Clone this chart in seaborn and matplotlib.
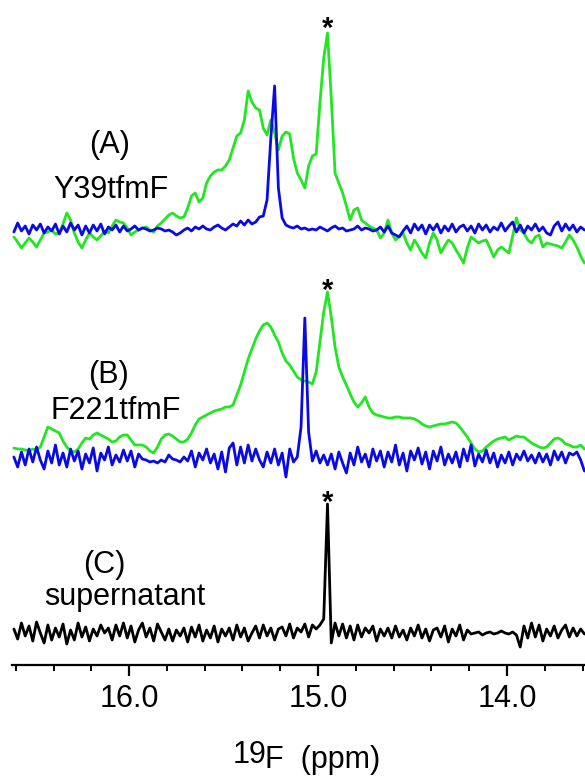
import numpy as np
import pandas as pd
import matplotlib
matplotlib.use("Agg")
import matplotlib.pyplot as plt
import seaborn as sns
from matplotlib.ticker import FixedLocator, MultipleLocator, FormatStrFormatter

# 19F spectra, sampled every 0.02 ppm from 16.61 down to 13.59 (152 points)
ppm = np.round(16.61 - 0.02 * np.arange(152), 2)

# (A) Y39tfmF - green trace
y39_green = [
    -9, -14, -20, -15, -10, -14, -19, -12, -5, -4,
    -2, -6, -5, 4, 15, 8, -5, -14, -20, -12,
    -5, -9, -12, -8, -3, -5, 2, 8, 6, 5,
    0, -7, -4, -2, 0, 1, -2, -4, 2, 5,
    9, 13, 15, 12, 10, 11, 20, 32, 35, 26,
    30, 45, 52, 56, 58, 58, 62, 68, 80, 92,
    95, 108, 137, 126, 120, 118, 100, 93, 108, 95,
    78, 92, 96, 94, 70, 55, 48, 40, 62, 72,
    74, 125, 170, 195, 130, 55, 45, 35, 22, 8,
    18, 20, 8, 5, 2, 0, -2, -10, -5, 8,
    -5, -12, -8, -5, -15, -22, -12, -18, -25, -30,
    -15, -5, -12, -25, -18, -12, -15, -22, -28, -35,
    -20, -9, -12, -15, -13, -12, -20, -29, -22, -19,
    -22, -25, -8, 10, -2, -5, -12, -15, -9, -7,
    -19, -15, -16, -17, -18, -20, -14, -7, -12, -19,
    -28, -35,
]
# (A) Y39tfmF - blue trace
y39_blue = [
    -4, 5, -3, 2, -6, 3, -2, 4, -5, 1,
    -3, 4, -6, 2, -4, 5, -2, 3, -7, 2,
    -5, 3, -3, 4, -6, 1, -2, 3, -4, 2,
    -3, -1, 2, -2, 0, -1, -3, -2, 0, -1,
    -3, -2, -4, -7, -5, -2, 0, -3, 1, -1,
    2, -1, -2, 1, 3, 0, -2, 1, 4, 2,
    7, 3, 8, 4, 6, 11, 12, 28, 90, 142,
    40, 10, 3, 1, 0, 2, -1, 0, -2, -1,
    -2, 1, -1, -3, 0, 2, -1, 0, -3, -2,
    -1, 2, -2, 0, -1, -3, -2, 1, -4, 2,
    -5, -7, -9, -3, 2, -5, 4, -2, 3, -6,
    3, -2, 4, -5, 2, -3, 4, -4, 1, 3,
    -3, 2, -5, 4, -2, 3, -4, 1, -2, 5,
    -3, 2, 6, -4, 3, -5, 2, -2, 4, -3,
    1, -5, -7, 2, 6, -3, 4, -2, 3, -4,
    1, -2,
]
# (B) F221tfmF - green trace
f221_green = [
    9, 8, 8, 7, 6, 8, 7, 10, 20, 30,
    28, 26, 24, 16, 10, 6, 5, 8, 14, 19,
    18, 22, 24, 22, 20, 18, 15, 16, 20, 22,
    22, 17, 12, 12, 12, 10, 6, 4, 10, 18,
    22, 23, 21, 18, 15, 15, 18, 24, 32, 38,
    40, 42, 44, 46, 47, 48, 50, 50, 52, 62,
    72, 85, 98, 108, 118, 126, 132, 134, 130, 122,
    115, 104, 96, 92, 86, 80, 77, 76, 75, 73,
    85, 115, 145, 165, 140, 110, 90, 80, 72, 63,
    55, 50, 54, 60, 50, 44, 42, 41, 40, 39,
    39, 40, 40, 39, 39, 39, 38, 36, 33, 31,
    30, 31, 32, 33, 33, 34, 35, 34, 30, 25,
    20, 14, 8, 5, 6, 10, 13, 16, 18, 19,
    20, 17, 19, 21, 20, 20, 17, 14, 12, 10,
    9, 10, 14, 18, 19, 17, 13, 12, 10, 10,
    12, 8,
]
# (B) F221tfmF - blue trace
f221_blue = [
    0, -10, 5, -8, 8, -5, 10, -3, -12, 6,
    -6, 12, -8, 4, -10, 8, -4, 6, -12, 3,
    -6, 9, -14, 4, -3, 10, -8, 2, -5, 7,
    -4, 6, -10, 3, -2, -3, -5, -4, -6, -3,
    -5, 2, -2, -3, -5, 0, -4, 6, -10, 4,
    -3, 8, -6, 3, -12, 5, -15, 9, 14, -8,
    10, -6, 12, -4, 8, -3, -10, 5, -6, 8,
    -8, 4, -20, 8, -5, 0, 30, 139, 25, -4,
    6, -6, 2, -8, 3, -12, 5, -6, -16, 4,
    -8, 10, -5, 3, -10, 8, -4, 6, -10, 5,
    -5, 12, -8, 4, -14, 6, -3, 9, -7, 5,
    -12, 6, -4, 10, -8, 3, -6, 5, -10, 8,
    -4, 12, -9, 3, -5, 7, -6, 4, -10, 2,
    -6, 5, -8, 3, -3, 6, -4, 2, -6, 4,
    -5, 3, -8, 6, -3, 5, -6, 4, 2, 5,
    -3, -14,
]
# (C) supernatant - black trace
super_black = [
    4, -6, 10, -3, 7, -8, 11, 0, -10, 8,
    -7, 5, -4, 9, -11, 3, -7, 10, -4, 6,
    -8, 4, -3, 8, 0, 5, -7, 8, -3, 10,
    -5, 7, -9, 3, 10, -4, 5, -8, 9, 1,
    -7, 4, -8, 3, -3, 5, -9, 6, -4, 8,
    -8, 3, -5, 7, -9, 4, -3, 5, -7, 8,
    -4, 5, -8, 0, 7, -5, 8, -3, 5, -7,
    4, 6, -3, 9, -5, 5, 1, 9, -4, 8,
    4, 8, 14, 129, -10, 10, -3, 9, -5, 7,
    -7, 8, -4, 5, 0, 7, -8, 4, -3, 5,
    -5, 7, -4, 3, -7, 5, -3, 8, -5, 4,
    -8, 3, 5, -4, 7, -9, 4, -3, 8, -7,
    3, -1, 0, 1, -2, 0, 1, -1, 0, 2,
    0, -1, 1, -2, -14, 7, -5, 10, -4, 8,
    -8, 4, -3, 7, -5, 3, 8, -4, 5, -3,
    4, -1,
]

panel_labels = ["(A)", "Y39tfmF", "(B)", "F221tfmF", "(C)", "supernatant"]
star_ppm = 14.95

sns.set_style("white")
plt.rcParams['font.family'] = ['Liberation Sans', 'DejaVu Sans']
plt.rcParams['text.color'] = 'black'
plt.rcParams['xtick.color'] = 'black'
plt.rcParams['axes.labelcolor'] = 'black'

W, H = 585, 779
fig = plt.figure(figsize=(W / 100, H / 100), dpi=100)
ax = fig.add_axes([12 / W, (H - 665) / H, (W - 12) / W, 665 / H])

green = "#22e622"
blue = "#0a0ae6"

# vertical stacking of the three panels
traces = [
    (y39_green, 437, green),
    (y39_blue, 437, blue),
    (f221_green, 208, green),
    (f221_blue, 208, blue),
    (super_black, 32, "black"),
]
for vals, off, col in traces:
    df = pd.DataFrame({"ppm": ppm, "I": np.array(vals) + off})
    sns.lineplot(data=df, x="ppm", y="I", color=col, lw=2.0, ax=ax, sort=False)

ax.set_xlim(16.62, 13.587)
ax.set_ylim(0, 665)

for s in ["left", "top", "right"]:
    ax.spines[s].set_visible(False)
ax.spines["bottom"].set_linewidth(1.6)
ax.spines["bottom"].set_color("black")
ax.set_yticks([])
ax.xaxis.set_major_locator(FixedLocator([16.0, 15.0, 14.0]))
ax.xaxis.set_major_formatter(FormatStrFormatter("%.1f"))
ax.xaxis.set_minor_locator(MultipleLocator(0.2))
ax.tick_params(axis="x", which="major", direction="out", length=8, width=1.6,
               labelsize=22, pad=6, bottom=True, colors="black")
ax.tick_params(axis="x", which="minor", direction="out", length=4, width=1.4,
               bottom=True, colors="black")
ax.set_xlabel("")
ax.set_ylabel("")

# asterisks above the reference peak
for ypx in [37, 299, 511]:
    ax.text(star_ppm, 665 - ypx, "*", fontsize=21, fontweight="bold",
            ha="center", va="baseline", color="black")

# panel labels (figure pixel positions)
label_pos = [(110, 153), (111, 198), (108, 383), (116, 419), (104, 573), (125, 605)]
for txt, (x, y) in zip(panel_labels, label_pos):
    fig.text(x / W, 1 - y / H, txt, fontsize=22, ha="center", va="baseline", color="black")

# axis title with raised mass number
fig.text(233 / W, 1 - 763 / H, "19", fontsize=22, ha="left", va="baseline", color="black")
fig.text(265 / W, 1 - 768 / H, "F  (ppm)", fontsize=22, ha="left", va="baseline", color="black")

fig.savefig("out.png", dpi=100)
